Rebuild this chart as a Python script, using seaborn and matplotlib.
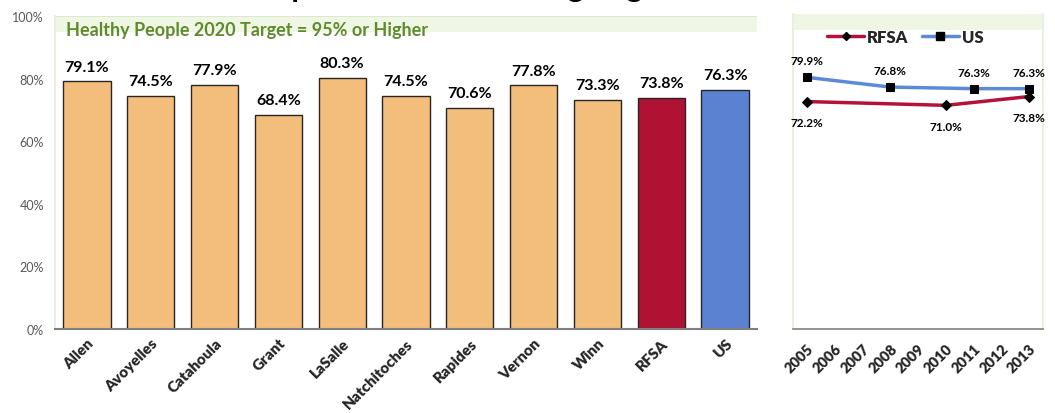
import pandas as pd
import numpy as np
import seaborn as sns
import matplotlib.pyplot as plt
from matplotlib.lines import Line2D

sns.set_theme(style="white")
plt.rcParams["font.family"] = ["Lato", "DejaVu Sans"]

# --- data ---
areas = ["Allen", "Avoyelles", "Catahoula", "Grant", "LaSalle", "Natchitoches",
         "Rapides", "Vernon", "Winn", "RFSA", "US"]
pct = [79.1, 74.5, 77.9, 68.4, 80.3, 74.5, 70.6, 77.8, 73.3, 73.8, 76.3]
bar_colors = ["#F3BD7C"] * 9 + ["#B01233", "#5A82D0"]

years = list(range(2005, 2014))
rfsa_years = [2005, 2010, 2013]
rfsa_pct = [72.2, 71.0, 73.8]
us_years = [2005, 2008, 2011, 2013]
us_pct = [79.9, 76.8, 76.3, 76.3]

W, H = 1055, 414
fig = plt.figure(figsize=(W / 100, H / 100), dpi=100)


def frac(x0, y0, x1, y1):
    return [x0 / W, 1 - y1 / H, (x1 - x0) / W, (y1 - y0) / H]


band_col = "#EFF7E4"
gray = "#595959"

# --- left: bar chart ---
ax = fig.add_axes(frac(55, 17, 757, 330))
df = pd.DataFrame({"area": areas, "pct": pct})
sns.barplot(data=df, x="area", y="pct", hue="area", palette=bar_colors,
            saturation=1, legend=False, width=0.74, edgecolor="#262626",
            linewidth=1, ax=ax)
ax.axhspan(95, 100, color=band_col, zorder=0, lw=0)
ax.axhline(100, color="#D8E8C8", lw=1.2, zorder=0.5)
ax.text(0.015, 95.6, "Healthy People 2020 Target = 95% or Higher", color="#5E8B2D",
        fontsize=13, fontweight="bold", va="center", ha="left",
        transform=ax.get_yaxis_transform())
for i, v in enumerate(pct):
    ax.text(i, v + 2.5, f"{v:.1f}%", ha="center", va="bottom",
            fontsize=11.5, fontweight="bold", color="black")
ax.set_ylim(0, 100)
ax.set_xlim(-0.5, len(areas) - 0.5)
ax.set_yticks(range(0, 101, 20))
ax.set_yticklabels([f"{t}%" for t in range(0, 101, 20)], color=gray, fontsize=9)
ax.tick_params(axis="y", length=0, pad=8)
ax.tick_params(axis="x", length=0, pad=5)
ax.set_xticks(range(len(areas)))
ax.set_xticklabels(areas, rotation=45, ha="right", rotation_mode="anchor",
                   fontsize=11, fontweight="heavy")
ax.set_xlabel("")
ax.set_ylabel("")
for s in ["top", "right"]:
    ax.spines[s].set_visible(False)
ax.spines["left"].set_color("#E4F0D8")
ax.spines["bottom"].set_color("#7F7F7F")
ax.spines["bottom"].set_linewidth(1.5)

# --- right: trend lines ---
ax2 = fig.add_axes(frac(793, 15, 1043, 330))
ax2.axhspan(95, 100, color=band_col, zorder=0, lw=0)
rf = pd.DataFrame({"year": rfsa_years, "pct": rfsa_pct})
us = pd.DataFrame({"year": us_years, "pct": us_pct})
sns.lineplot(data=rf, x="year", y="pct", color="#B5123B", lw=2.5, marker="D",
             markersize=5, markerfacecolor="black", markeredgecolor="black", ax=ax2)
sns.lineplot(data=us, x="year", y="pct", color="#5B8BD8", lw=2.5, marker="s",
             markersize=6, markerfacecolor="black", markeredgecolor="black", ax=ax2)
for x, v in zip(us_years, us_pct):
    ax2.text(x, v + 3.5, f"{v:.1f}%", ha="center", va="bottom",
             fontsize=8.5, fontweight="bold", color="black")
for x, v in zip(rfsa_years, rfsa_pct):
    ax2.text(x, v - 5, f"{v:.1f}%", ha="center", va="top",
             fontsize=8.5, fontweight="bold", color="black")
ax2.set_ylim(0, 100)
ax2.set_xlim(years[0] - 0.5, years[-1] + 0.5)
ax2.set_yticks([])
ax2.set_xticks(years)
ax2.set_xticklabels([str(y) for y in years], rotation=45, ha="right",
                    rotation_mode="anchor", fontsize=10.5, fontweight="heavy")
ax2.set_xticks(np.arange(years[0] - 0.5, years[-1] + 1), minor=True)
ax2.tick_params(axis="x", which="major", length=0, pad=9)
ax2.tick_params(axis="x", which="minor", length=5, color="#7F7F7F", width=1)
ax2.set_xlabel("")
ax2.set_ylabel("")
ax2.spines["top"].set_visible(False)
ax2.spines["left"].set_color("#E4F0D8")
ax2.spines["right"].set_color("#E4F0D8")
ax2.spines["bottom"].set_color("#7F7F7F")
ax2.spines["bottom"].set_linewidth(1.2)
handles = [
    Line2D([], [], color="#B5123B", lw=2.5, marker="D", markersize=4.5,
           markerfacecolor="black", markeredgecolor="black"),
    Line2D([], [], color="#5B8BD8", lw=2.5, marker="s", markersize=6,
           markerfacecolor="black", markeredgecolor="black"),
]
ax2.legend(handles, ["RFSA", "US"], loc="upper center", bbox_to_anchor=(0.45, 1.0),
           ncol=2, frameon=False, handlelength=2.2, handletextpad=0.2,
           columnspacing=0.8, prop={"weight": "heavy", "size": 12})

# --- title, clipped by the top edge like the reference ---
fig.text(492 / W, 1 + 3 / H, "Have a Specific Source of Ongoing Health Care",
         ha="center", va="baseline", fontsize=22, fontweight="bold", color="black")

fig.savefig("out.png", dpi=100)
